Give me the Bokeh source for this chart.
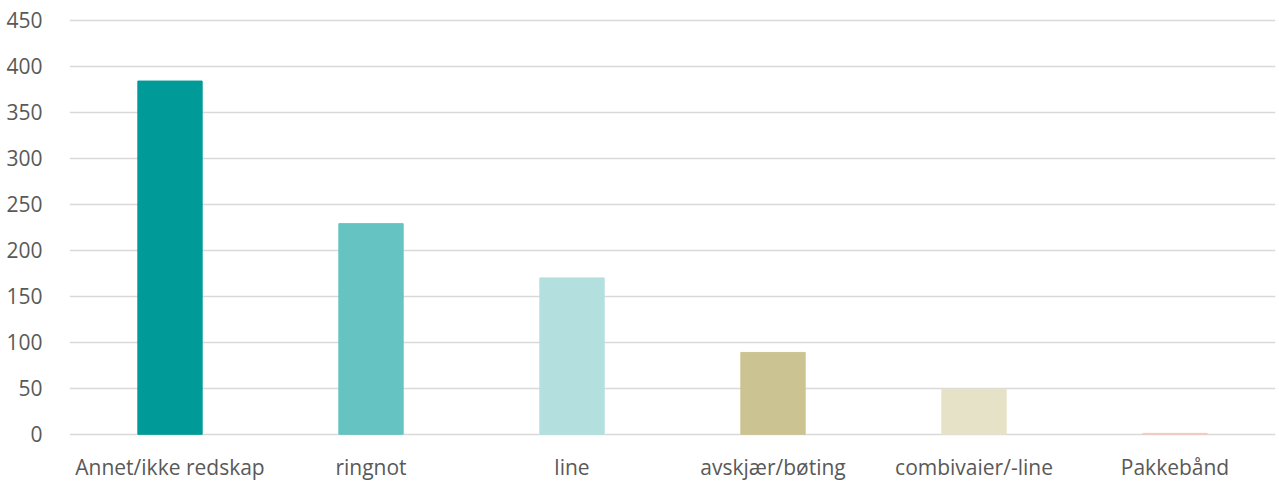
from bokeh.plotting import figure
from bokeh.models import ColumnDataSource, Range1d, FactorRange, FixedTicker
from bokeh.core.properties import value
from bokeh.embed import file_html
from bokeh.resources import INLINE

categories = ["Annet/ikke redskap", "ringnot", "line", "avskjær/bøting", "combivaier/-line", "Pakkebånd"]
values = [384, 229, 170, 89, 49, 1]
palette = ["#009B98", "#65C3C2", "#B3E0DF", "#CBC391", "#E6E2C8", "#F4C9BE"]
y_ticks = [0, 50, 100, 150, 200, 250, 300, 350, 400, 450]

source = ColumnDataSource(dict(cat=categories, val=values, color=palette))

p = figure(
    x_range=FactorRange(*categories, range_padding=0),
    y_range=Range1d(-51.3, 452),
    width=1279, height=481,
    output_backend="svg", toolbar_location=None,
    min_border_left=69, min_border_right=4, min_border_top=18, min_border_bottom=0,
)
p.x_range.factor_padding = 0
p.vbar(x="cat", top="val", width=0.32, color="color", source=source)

p.outline_line_color = None
p.background_fill_color = "white"
p.xgrid.grid_line_color = None
p.ygrid.grid_line_color = "#D9D9D9"
p.ygrid.grid_line_width = 1.5
p.yaxis.ticker = FixedTicker(ticks=y_ticks)
p.yaxis.axis_line_color = None
p.yaxis.major_tick_line_color = None
p.yaxis.minor_tick_line_color = None
p.yaxis.major_label_standoff = 21
p.yaxis.major_label_text_font = "Open Sans"
p.yaxis.major_label_text_font_size = "21px"
p.yaxis.major_label_text_color = "#595959"
p.xaxis.visible = False

label_src = ColumnDataSource(dict(cat=categories, y=[-35] * len(categories)))
p.text(x="cat", y="y", text="cat", source=label_src,
       text_align="center", text_baseline="middle",
       text_font=value("Open Sans"), text_font_size="21px", text_color="#595959")

open("out.html", "w").write(file_html(p, INLINE))
